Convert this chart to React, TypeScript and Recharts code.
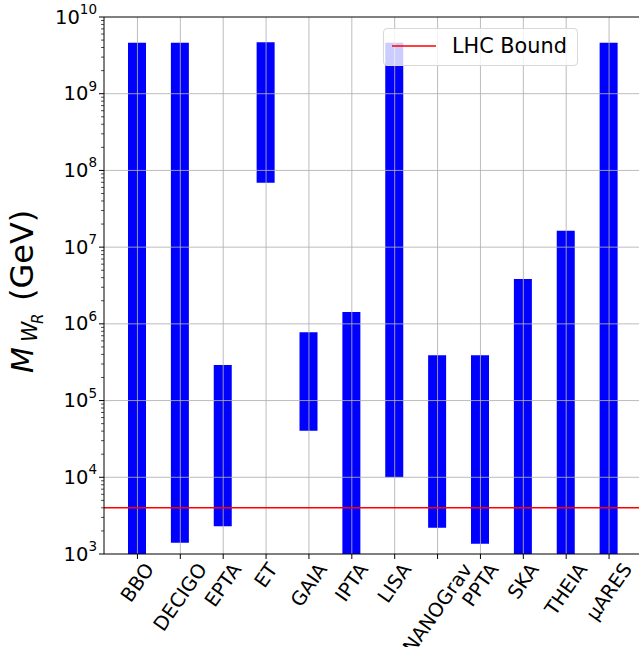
import { BarChart, Bar, XAxis, YAxis, ReferenceLine } from "recharts";

// detectors and the W_R mass window each one can probe (GeV)
const detectors = [
  "BBO",
  "DECIGO",
  "EPTA",
  "ET",
  "GAIA",
  "IPTA",
  "LISA",
  "NANOGrav",
  "PPTA",
  "SKA",
  "THEIA",
  "μARES",
];
const massLow = [1e3, 1.4e3, 2.3e3, 6.9e7, 4.05e4, 1e3, 1e4, 2.2e3, 1.36e3, 1e3, 1e3, 1e3];
const massHigh = [4.6e9, 4.6e9, 2.9e5, 4.7e9, 7.8e5, 1.43e6, 4.6e9, 3.9e5, 3.9e5, 3.85e6, 1.63e7, 4.6e9];

const lhcBound = 4000;
const lhcLabel = "LHC Bound";

const decades = [1e3, 1e4, 1e5, 1e6, 1e7, 1e8, 1e9, 1e10];
const minorTicks = decades.slice(0, -1).flatMap((d) => [2, 3, 4, 5, 6, 7, 8, 9].map((m) => m * d));
const yTicks = [...decades, ...minorTicks].sort((a, b) => a - b);

const data = detectors.map((name, i) => ({ name, range: [massLow[i], massHigh[i]] }));

const FONT = "'DejaVu Sans', sans-serif";
const AXIS_X = 104;
const TICK_FS = 19.5;
const ROT = 55;

let ctx: CanvasRenderingContext2D | null = null;
function textWidth(s: string, size: number) {
  if (!ctx) ctx = document.createElement("canvas").getContext("2d");
  if (!ctx) return s.length * size * 0.6;
  ctx.font = `${size}px 'DejaVu Sans'`;
  return ctx.measureText(s).width;
}

function MassTick(props: any) {
  const { y, payload } = props;
  const v = payload.value as number;
  const exp = Math.round(Math.log10(v));
  const major = Math.abs(v - Math.pow(10, exp)) < v * 1e-6;
  return (
    <g>
      <line
        x1={AXIS_X - (major ? 5 : 3)}
        x2={AXIS_X}
        y1={y}
        y2={y}
        stroke="#000"
        strokeWidth={major ? 1 : 0.7}
      />
      {major && (
        <text
          x={AXIS_X - 7}
          y={y}
          textAnchor="end"
          dominantBaseline="central"
          fontFamily={FONT}
          fontSize={TICK_FS}
          fill="#000"
        >
          10
          <tspan fontSize={13.5} dy={-8}>
            {exp}
          </tspan>
        </text>
      )}
    </g>
  );
}

function DetectorTick(props: any) {
  const { x, y, payload } = props;
  const label = payload.value as string;
  const w = textWidth(label, TICK_FS);
  const a = (ROT * Math.PI) / 180;
  const h = w * Math.sin(a) + TICK_FS * 0.8 * Math.cos(a);
  return (
    <text
      transform={`translate(${x},${y + h / 2}) rotate(-${ROT})`}
      textAnchor="middle"
      dominantBaseline="central"
      fontFamily={FONT}
      fontSize={TICK_FS}
      fill="#000"
    >
      {label}
    </text>
  );
}

// rotated axis title: M with W_R subscript, then the unit
const renderMassLabel = () => (
  <text
    transform="translate(33, 373) rotate(-90)"
    textAnchor="start"
    fontFamily={FONT}
    fontSize={30}
    fill="#000"
  >
    <tspan x={0} fontStyle="italic">
      M
    </tspan>
    <tspan x={31} dy={4} fontStyle="italic" fontSize={20.5}>
      W
    </tspan>
    <tspan x={49} dy={6} fontStyle="italic" fontSize={15}>
      R
    </tspan>
    <tspan x={72} dy={-10} fontSize={32}>
      (GeV)
    </tspan>
  </text>
);

function LhcLegend() {
  return (
    <div
      style={{
        position: "absolute",
        left: 383,
        top: 28,
        width: 195,
        height: 38,
        boxSizing: "border-box",
        border: "1px solid #d8d8d8",
        borderRadius: 4,
        background: "rgba(255,255,255,0.8)",
        fontFamily: FONT,
        zIndex: 10,
      }}
    >
      <svg width={60} height={36} style={{ position: "absolute", left: 0, top: 0 }}>
        <line x1={8} x2={52} y1={17} y2={17} stroke="#ff0000" strokeWidth={1.5} />
      </svg>
      <span
        style={{
          position: "absolute",
          left: 68,
          top: 4,
          fontSize: 20.8,
          lineHeight: "26px",
          color: "#000",
          whiteSpace: "nowrap",
        }}
      >
        {lhcLabel}
      </span>
    </div>
  );
}

export default function App() {
  return (
    <div
      style={{
        position: "absolute",
        left: 0,
        top: 0,
        width: 639,
        height: 647,
        overflow: "hidden",
        background: "#fff",
      }}
    >
      <BarChart
        width={660}
        height={647}
        data={data}
        margin={{ top: 17, right: 17.5, bottom: 0, left: 0 }}
      >
        <XAxis
          dataKey="name"
          type="category"
          padding={{ left: 12, right: 12 }}
          height={93}
          interval={0}
          tickSize={5}
          tickMargin={2}
          axisLine={{ stroke: "#000", strokeWidth: 1 }}
          tickLine={{ stroke: "#000", strokeWidth: 1 }}
          tick={<DetectorTick />}
        />
        <YAxis
          scale="log"
          domain={[1e3, 1e10]}
          allowDataOverflow
          ticks={yTicks}
          interval={0}
          width={104}
          axisLine={{ stroke: "#000", strokeWidth: 1 }}
          tickLine={false}
          tick={<MassTick />}
          label={renderMassLabel}
        />
        <Bar dataKey="range" fill="#0000ff" barSize={18} isAnimationActive={false} />
        {detectors.map((d) => (
          <ReferenceLine key={d} x={d} stroke="#b0b0b0" strokeWidth={1} strokeOpacity={0.85} />
        ))}
        {decades.slice(1, -1).map((v) => (
          <ReferenceLine key={v} y={v} stroke="#b0b0b0" strokeWidth={1} strokeOpacity={0.85} />
        ))}
        <ReferenceLine y={1e10} stroke="#000" strokeWidth={1} />
        <ReferenceLine y={lhcBound} stroke="#ff0000" strokeWidth={1.5} />
      </BarChart>
      <LhcLegend />
    </div>
  );
}
